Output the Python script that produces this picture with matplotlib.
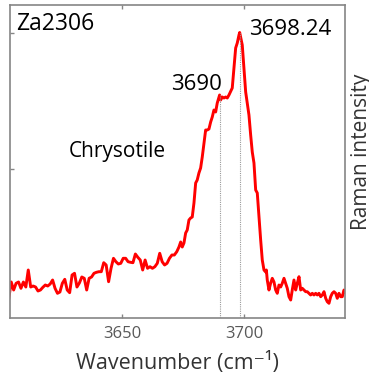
import matplotlib
matplotlib.use("Agg")
import matplotlib.pyplot as plt

plt.rcParams['font.family'] = ['Open Sans', 'DejaVu Sans']

# Raman spectrum of chrysotile (OH-stretching region), arbitrary intensity units
wavenumber = [
    3603.4, 3604.4, 3605.4, 3606.4, 3607.4, 3608.4, 3609.4, 3610.4, 3611.4, 3612.4,
    3613.4, 3614.4, 3615.4, 3616.4, 3617.4, 3618.4, 3619.4, 3620.4, 3621.4, 3622.4,
    3623.4, 3624.4, 3625.4, 3626.4, 3627.4, 3628.4, 3629.4, 3630.4, 3631.4, 3632.4,
    3633.4, 3634.4, 3635.4, 3636.4, 3637.4, 3638.4, 3639.4, 3640.4, 3641.4, 3642.4,
    3643.4, 3644.4, 3645.4, 3646.4, 3647.4, 3648.4, 3649.4, 3650.4, 3651.4, 3652.4,
    3653.4, 3654.4, 3655.4, 3656.4, 3657.4, 3658.4, 3659.4, 3660.4, 3661.4, 3662.4,
    3663.4, 3664.4, 3665.4, 3666.4, 3667.4, 3668.4, 3669.4, 3670.4, 3671.4, 3672.4,
    3673.3, 3674.0, 3674.65, 3675.35, 3676.05, 3676.7, 3677.4, 3678.1, 3678.76, 3679.46,
    3680.16, 3680.8, 3681.5, 3682.2, 3682.87, 3683.57, 3684.26, 3684.92, 3685.62, 3686.32,
    3686.98, 3687.67, 3688.37, 3689.03, 3690.0, 3690.43, 3691.08, 3691.78, 3692.48, 3693.14,
    3693.84, 3695.19, 3695.89, 3696.59, 3697.25, 3697.95, 3698.24, 3699.3, 3700.0, 3700.7,
    3701.36, 3702.05, 3702.75, 3703.41, 3704.11, 3704.81, 3705.47, 3706.16, 3706.86, 3707.52,
    3708.22, 3708.92, 3709.2, 3709.57, 3710.27, 3710.97, 3711.63, 3712.33, 3713.02, 3713.68,
    3714.38, 3715.08, 3715.74, 3716.44, 3717.13, 3717.79, 3718.49, 3719.19, 3719.84, 3720.54,
    3721.24, 3721.9, 3722.6, 3723.3, 3723.95, 3724.65, 3725.35, 3726.01, 3726.71, 3727.4,
    3728.06, 3728.76, 3729.46, 3730.12, 3730.82, 3731.51, 3732.17, 3732.87, 3733.57, 3734.22,
    3734.92, 3735.62, 3736.28, 3736.98, 3737.67, 3738.33, 3739.03, 3739.73, 3740.39, 3741.08,
    3741.9,
]
intensity = [
    6.7, 23, 15, 21.7, 23, 16.7, 23, 18, 35, 18,
    19, 18, 14, 15, 17.7, 20, 19, 21, 25, 16.7,
    11.7, 13, 21.7, 25.7, 15, 12.3, 30, 31.7, 18, 22,
    28, 26.7, 15, 26.7, 28, 31.7, 32.7, 33.3, 33.3, 42.3,
    40, 23.3, 36.7, 46.7, 43.3, 41, 41.7, 46.7, 46.7, 43.3,
    42.7, 42.3, 51, 47.7, 45, 35, 45, 36.7, 38.3, 36.7,
    38.3, 41.7, 51.7, 43.3, 40, 41.7, 46.7, 50, 50, 53.3,
    58, 63, 58, 62, 72, 75, 85, 87, 88, 102,
    122, 125, 132, 137, 148, 162, 175, 175, 176, 183,
    188, 195, 193, 202, 210, 205, 208, 207, 208, 207,
    210, 217, 237, 257, 262, 270, 272.5, 260, 237, 213,
    202, 190, 170, 153, 142, 115, 112, 88, 65, 45,
    35, 33, 35, 25, 15, 22, 26.7, 23, 15, 11.7,
    20, 18, 21.7, 26.7, 21.7, 16.7, 8.3, 5, 15, 25,
    15, 21.7, 28.3, 15, 16.7, 15, 13.3, 13.3, 11.7, 10,
    11.7, 10, 11.7, 10, 11.7, 8.3, 10, 13.3, 6.7, 3.3,
    1.7, 8.3, 11.7, 13.3, 11.7, 6.7, 11.7, 8.3, 8.3, 15,
    12,
]

# Annotated band positions and their intensities
band_pos = [3690.0, 3698.24]
band_int = [210, 272.5]
band_labels = ["3690", "3698.24"]

x_ticks = [3650, 3700]
y_ticks = [136, 272]

fig = plt.figure(figsize=(3.69, 3.78), dpi=100)
ax = fig.add_axes([10 / 369, 1 - 318 / 378, 335 / 369, 313 / 378])

ax.plot(wavenumber, intensity, color="#ff0000", lw=2.1, solid_joinstyle="round")

y_min, y_max = -13, 300
ax.vlines(band_pos, y_min, band_int, colors="#9a9a9a", linestyles=(0, (1, 1)), lw=0.8)

ax.set_xlim(3603.9, 3741.5)
ax.set_ylim(y_min, y_max)

ax.set_xticks(x_ticks)
ax.set_xticklabels([str(t) for t in x_ticks])
ax.set_yticks(y_ticks)
ax.set_yticklabels([])

for sp in ax.spines.values():
    sp.set_color("#858585")
    sp.set_linewidth(1.2)

ax.tick_params(axis="x", direction="in", top=True, bottom=True, length=3,
               width=1, color="#858585", labelsize=12, labelcolor="#595959", pad=6)
ax.tick_params(axis="y", direction="in", left=True, right=False, length=3,
               width=1, color="#858585")

ax.set_xlabel("Wavenumber (cm\u207b\u00b9)", fontsize=15.5, color="#333333", labelpad=7)

fig.text(351 / 369, 1 - 151.5 / 378, "Raman intensity", rotation=90,
         ha="left", va="center", fontsize=15, color="#333333")

ax.text(3606.3, 275, "Za2306", fontsize=16.5, color="black", ha="left", va="baseline")
ax.text(3628.1, 147.7, "Chrysotile", fontsize=15, color="black", ha="left", va="baseline")
ax.text(3690.96, 215, band_labels[0], fontsize=16, color="black", ha="right", va="baseline")
ax.text(3702.05, 270, band_labels[1], fontsize=16, color="black", ha="left", va="baseline")

fig.savefig("out.png", dpi=100)
